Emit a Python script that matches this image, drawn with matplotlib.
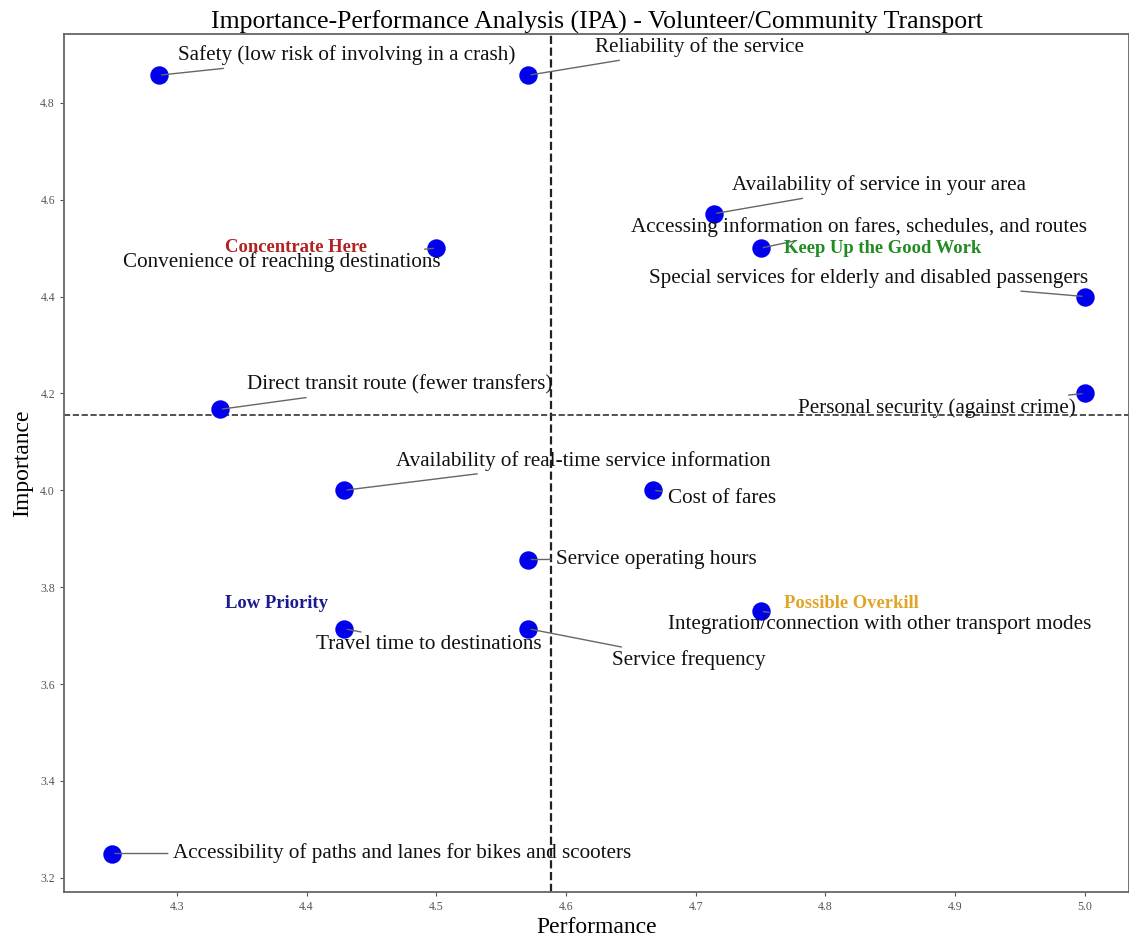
import numpy as np
import matplotlib.pyplot as plt

plt.rcParams['font.family'] = ['Liberation Serif', 'DejaVu Serif']

# Data
attributes = [
    "Safety (low risk of involving in a crash)",
    "Reliability of the service",
    "Availability of service in your area",
    "Accessing information on fares, schedules, and routes",
    "Convenience of reaching destinations",
    "Special services for elderly and disabled passengers",
    "Personal security (against crime)",
    "Direct transit route (fewer transfers)",
    "Availability of real-time service information",
    "Cost of fares",
    "Service operating hours",
    "Travel time to destinations",
    "Service frequency",
    "Integration/connection with other transport modes",
    "Accessibility of paths and lanes for bikes and scooters",
]
performance = [4.286, 4.571, 4.714, 4.75, 4.5, 5.0, 5.0, 4.333, 4.429, 4.667, 4.571, 4.429, 4.571, 4.75, 4.25]
importance = [4.857, 4.857, 4.571, 4.5, 4.5, 4.4, 4.2, 4.167, 4.0, 4.0, 3.857, 3.714, 3.714, 3.75, 3.25]

quadrants = ["Concentrate Here", "Keep Up the Good Work", "Low Priority", "Possible Overkill"]

# label placement (data coords)
label_xy = [
    (4.431, 4.898), (4.703, 4.915), (4.841, 4.630), (4.826, 4.543), (4.381, 4.471),
    (4.833, 4.438), (4.886, 4.170), (4.472, 4.218), (4.613, 4.061), (4.720, 3.984),
    (4.670, 3.858), (4.494, 3.681), (4.695, 3.649), (4.842, 3.722), (4.474, 3.250),
]
quad_xy = [(4.392, 4.502), (4.844, 4.500), (4.377, 3.767), (4.820, 3.767)]
quad_colors = ["#b22222", "#228b22", "#1c1c8f", "#e0a526"]

fig = plt.figure(figsize=(11.29, 9.41), dpi=100)
ax = fig.add_axes([0.0567, 0.0518, 0.9433, 0.912])

ax.scatter(performance, importance, s=150, color="#0000ee", zorder=3)

ax.axvline(np.mean(performance), color="#222222", linestyle="--", lw=1.6)
ax.axhline(np.mean(importance), color="#333333", linestyle="--", lw=1.2)

for name, x, y, (tx, ty) in zip(attributes, performance, importance, label_xy):
    ax.annotate(name, xy=(x, y), xytext=(tx, ty), ha="center", va="center",
                fontsize=15.2, color="#111111",
                arrowprops=dict(arrowstyle="-", color="#666666", lw=1))

for q, (tx, ty), c in zip(quadrants, quad_xy, quad_colors):
    ax.text(tx, ty, q, ha="center", va="center", fontsize=13.4, fontweight="bold", color=c)

ax.set_xlim(4.213, 5.034)
ax.set_ylim(3.170, 4.942)
ax.set_xticks([4.3, 4.4, 4.5, 4.6, 4.7, 4.8, 4.9, 5.0])
ax.set_yticks([3.2, 3.4, 3.6, 3.8, 4.0, 4.2, 4.4, 4.6, 4.8])
ax.tick_params(labelsize=8.5, labelcolor="#555555", color="#555555", length=3)
for sp in ax.spines.values():
    sp.set_color("#666666")
    sp.set_linewidth(1.3)

ax.set_title("Importance-Performance Analysis (IPA) - Volunteer/Community Transport",
             fontsize=18.5, pad=2)
ax.set_xlabel("Performance", fontsize=17, labelpad=3)
ax.set_ylabel("Importance", fontsize=17, labelpad=5)

fig.savefig("out.png", dpi=100)
